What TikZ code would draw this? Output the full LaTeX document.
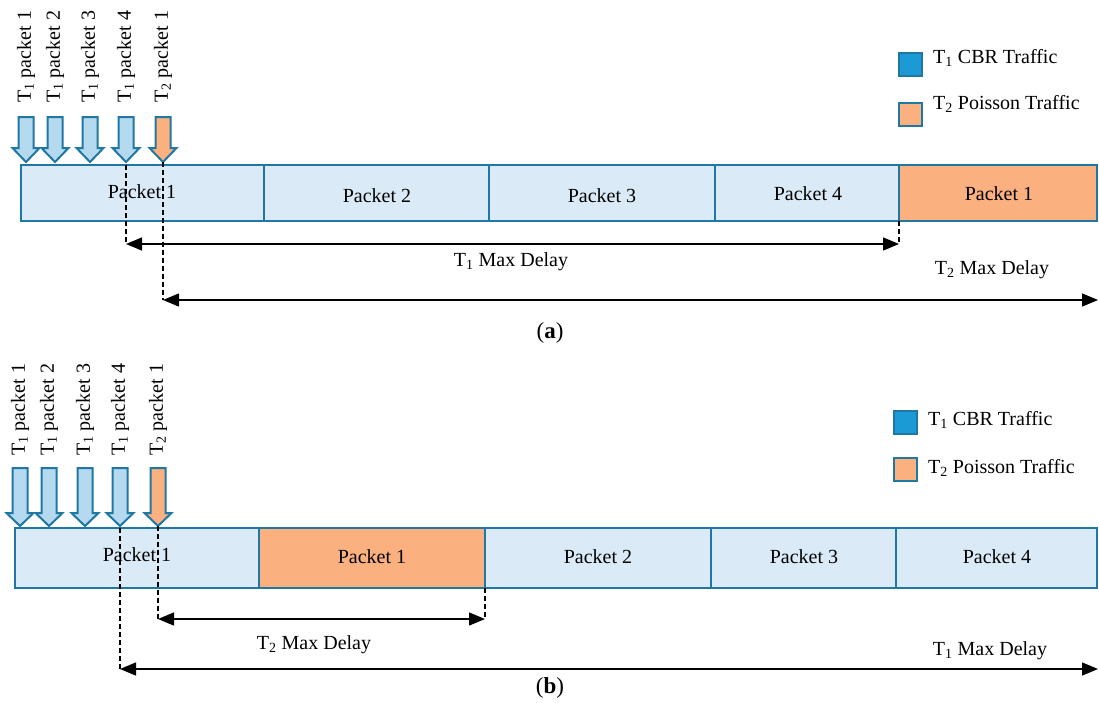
\documentclass[tikz,border=0pt]{standalone}
\usepackage{fontspec}
\setmainfont{Liberation Serif}
\usetikzlibrary{arrows.meta}
\definecolor{pktfill}{HTML}{DAEAF6}
\definecolor{pktdraw}{HTML}{1F77A4}
\definecolor{orfill}{HTML}{FBB07F}
\definecolor{arrfill}{HTML}{B5D9EF}
\definecolor{legblue}{HTML}{1C9AD6}
\begin{document}
\begin{tikzpicture}[x=1pt,y=-1pt, font=\fontsize{20}{24}\selectfont,
  pkt/.style={draw=pktdraw, line width=2pt, fill=pktfill, anchor=north west, inner sep=0pt, outer sep=0pt},
  orpkt/.style={pkt, fill=orfill},
  lbl/.style={inner sep=0pt},
  captxt/.style={inner sep=0pt, font=\fontsize{23}{26}\selectfont},
  vlbl/.style={rotate=90, anchor=west, inner sep=0pt},
  blk/.style={draw=pktdraw, line width=2pt, line join=miter},
  guide/.style={black, line width=1.1pt, dash pattern=on 5pt off 3pt},
  span/.style={black, line width=1.4pt, {Triangle[length=16pt,width=13pt]}-{Triangle[length=16pt,width=13pt]}},
  leg/.style={draw=pktdraw, line width=2pt, minimum size=23pt, anchor=north west, inner sep=0pt}]
\useasboundingbox (0,0) rectangle (1099,702);

% ---------------- (a) ----------------
\foreach \n/\x in {1/26,2/55,3/90,4/126}{
  \node[vlbl] (la\n) at (\x,103) {T\textsubscript{1} packet \n};
  \draw[blk, fill=arrfill] (\x-7.5,117) -- (\x+7.5,117) -- (\x+7.5,148) -- (\x+13.5,148) -- (\x,162) -- (\x-13.5,148) -- (\x-7.5,148) -- cycle;
  \coordinate (ta\n) at (\x,162);
}
\node[vlbl] (la5) at (163,103) {T\textsubscript{2} packet 1};
\draw[blk, fill=orfill] (163-7.5,117) -- (163+7.5,117) -- (163+7.5,148) -- (163+13.5,148) -- (163,162) -- (163-13.5,148) -- (163-7.5,148) -- cycle;
\coordinate (ta5) at (163,162);

\node[pkt, minimum width=243pt, minimum height=56pt] (a1) at (21,165) {};
\node[pkt, minimum width=225pt, minimum height=56pt] (a2) at (264,165) {};
\node[pkt, minimum width=226pt, minimum height=56pt] (a3) at (489,165) {};
\node[pkt, minimum width=184pt, minimum height=56pt] (a4) at (715,165) {};
\node[orpkt, minimum width=198pt, minimum height=56pt] (a5) at (899,165) {};
\node[lbl] (pa1) at (142,192) {Packet 1};
\node[lbl] (pa2) at (377,196) {Packet 2};
\node[lbl] (pa3) at (602,196) {Packet 3};
\node[lbl] (pa4) at (808,194) {Packet 4};
\node[lbl] (pa5) at (999,194) {Packet 1};

\coordinate (da1) at (126,244);
\coordinate (da2) at (899,244);
\coordinate (da3) at (163,300);
\coordinate (da4) at (1098,300);
\draw[guide] (126,165) -- (da1);
\draw[guide] (ta5) -- (da3);
\draw[guide] (a4.south east) -- (da2);
\draw[span] (da1) -- (da2);
\draw[span] (da3) -- (da4);
\node[lbl] (ma1) at (511,262) {T\textsubscript{1} Max Delay};
\node[lbl] (ma2) at (992,270) {T\textsubscript{2} Max Delay};
\node[captxt] (capa) at (550,333) {(\textbf{a})};

\node[leg, fill=legblue] (lga1) at (898,52) {};
\node[leg, fill=orfill] (lga2) at (898,102) {};
\node[lbl, anchor=west] (lta1) at (933,58) {T\textsubscript{1} CBR Traffic};
\node[lbl, anchor=west] (lta2) at (933,104) {T\textsubscript{2} Poisson Traffic};

% ---------------- (b) ----------------
\foreach \n/\x in {1/20,2/49,3/85,4/120}{
  \node[vlbl] (lb\n) at (\x,456) {T\textsubscript{1} packet \n};
  \draw[blk, fill=arrfill] (\x-7.5,468) -- (\x+7.5,468) -- (\x+7.5,513) -- (\x+13.5,513) -- (\x,526) -- (\x-13.5,513) -- (\x-7.5,513) -- cycle;
  \coordinate (tb\n) at (\x,526);
}
\node[vlbl] (lb5) at (158,456) {T\textsubscript{2} packet 1};
\draw[blk, fill=orfill] (158-7.5,468) -- (158+7.5,468) -- (158+7.5,513) -- (158+13.5,513) -- (158,526) -- (158-13.5,513) -- (158-7.5,513) -- cycle;
\coordinate (tb5) at (158,526);

\node[pkt, minimum width=244pt, minimum height=60pt] (b1) at (15,528) {};
\node[orpkt, minimum width=226pt, minimum height=60pt] (b2) at (259,528) {};
\node[pkt, minimum width=226pt, minimum height=60pt] (b3) at (485,528) {};
\node[pkt, minimum width=185pt, minimum height=60pt] (b4) at (711,528) {};
\node[pkt, minimum width=201pt, minimum height=60pt] (b5) at (896,528) {};
\node[lbl] (pb1) at (137,555) {Packet 1};
\node[lbl] (pb2) at (372,557) {Packet 1};
\node[lbl] (pb3) at (598,557) {Packet 2};
\node[lbl] (pb4) at (804,557) {Packet 3};
\node[lbl] (pb5) at (997,557) {Packet 4};

\coordinate (db1) at (158,619);
\coordinate (db2) at (485,619);
\coordinate (db3) at (120,669);
\coordinate (db4) at (1098,669);
\draw[guide] (120,528) -- (db3);
\draw[guide] (tb5) -- (db1);
\draw[guide] (b2.south east) -- (db2);
\draw[span] (db1) -- (db2);
\draw[span] (db3) -- (db4);
\node[lbl] (mb1) at (314,645) {T\textsubscript{2} Max Delay};
\node[lbl] (mb2) at (990,651) {T\textsubscript{1} Max Delay};
\node[captxt] (capb) at (550,688) {(\textbf{b})};

\node[leg, fill=legblue] (lgb1) at (893,410) {};
\node[leg, fill=orfill] (lgb2) at (893,457) {};
\node[lbl, anchor=west] (ltb1) at (928,420) {T\textsubscript{1} CBR Traffic};
\node[lbl, anchor=west] (ltb2) at (928,468) {T\textsubscript{2} Poisson Traffic};
\end{tikzpicture}
\end{document}
